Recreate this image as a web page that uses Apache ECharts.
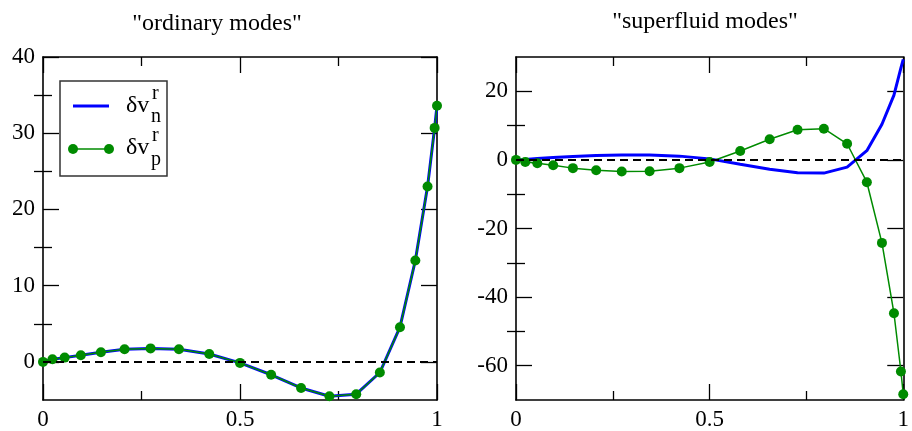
<!DOCTYPE html>
<html>
<head>
<meta charset="utf-8">
<script src="https://cdn.jsdelivr.net/npm/echarts@6/dist/echarts.min.js"></script>
<style>
  html, body { margin: 0; padding: 0; background: #fff; }
  #modes { width: 912px; height: 431px; }
</style>
</head>
<body>
<div id="modes"></div>
<script>
// radial grid points (shared by both panels)
const xs = [0, 0.024, 0.055, 0.096, 0.147, 0.207, 0.273, 0.345, 0.422, 0.5,
  0.579, 0.655, 0.727, 0.795, 0.855, 0.906, 0.945, 0.976, 0.994, 1.0]

// "ordinary modes"
const ordN = [0, 0.35, 0.56, 0.87, 1.26, 1.65, 1.77, 1.65, 1.04, -0.13,
  -1.69, -3.42, -4.5, -4.24, -1.39, 4.55, 13.3, 23.0, 30.7, 33.6]
const ordP = [0, 0.35, 0.56, 0.87, 1.26, 1.65, 1.77, 1.65, 1.04, -0.13,
  -1.69, -3.42, -4.5, -4.24, -1.39, 4.55, 13.3, 23.0, 30.7, 33.6]

// "superfluid modes"
const supN = [0, 0.1, 0.4, 0.7, 1.0, 1.3, 1.45, 1.4, 1.1, 0.3,
  -1.25, -2.7, -3.75, -3.85, -2.1, 2.7, 10.4, 18.9, 26.8, 29.3]
const supP = [0, -0.58, -0.96, -1.54, -2.4, -3.0, -3.4, -3.3, -2.4, -0.6,
  2.6, 6.0, 8.8, 9.1, 4.7, -6.5, -24.2, -44.7, -61.7, -68.3]

// tick labels
const ordMajor = [0, 10, 20, 30, 40]
const ordMinor = [5, 15, 25, 35]
const supMajor = [-60, -40, -20, 0, 20]
const supMinor = [-50, -30, -10, 10]

const pair = (ys) => xs.map((x, i) => [x, ys[i]])

const serif = 'Liberation Serif, DejaVu Serif, serif'
const green = '#008b00'
const blue = '#0000ff'

function xAxes (gridIndex) {
  const base = {
    type: 'value', gridIndex: gridIndex, min: 0, max: 1, interval: 0.5,
    splitLine: { show: false },
    axisLine: { onZero: false, lineStyle: { color: '#000', width: 1.6 } },
    axisTick: { inside: true, length: 16, lineStyle: { color: '#000', width: 1.3 } },
    minorTick: { show: true, splitNumber: 2, length: 9, lineStyle: { color: '#000', width: 1.3 } }
  }
  return [
    Object.assign({}, base, {
      position: 'bottom',
      axisLabel: { color: '#000', fontFamily: serif, fontSize: 23, margin: 8,
        formatter: v => String(v) }
    }),
    Object.assign({}, base, { position: 'top', axisLabel: { show: false } })
  ]
}

function yAxes (gridIndex, min, max, major, minor) {
  const line = { onZero: false, lineStyle: { color: '#000', width: 1.6 } }
  const tick = (vals, len) => ({ inside: true, length: len, customValues: vals,
    lineStyle: { color: '#000', width: 1.3 } })
  const base = { type: 'value', gridIndex: gridIndex, min: min, max: max,
    splitLine: { show: false } }
  return [
    Object.assign({}, base, { position: 'left', axisLine: line, axisTick: tick(major, 16),
      axisLabel: { customValues: major, color: '#000', fontFamily: serif, fontSize: 23, margin: 8 } }),
    Object.assign({}, base, { position: 'left', axisLine: { show: false }, axisTick: tick(minor, 9),
      axisLabel: { show: false } }),
    Object.assign({}, base, { position: 'right', axisLine: line, axisTick: tick(major, 16),
      axisLabel: { show: false } }),
    Object.assign({}, base, { position: 'right', axisLine: { show: false }, axisTick: tick(minor, 9),
      axisLabel: { show: false } })
  ]
}

const zeroLine = {
  silent: true,
  symbol: 'none',
  label: { show: false },
  lineStyle: { type: [8, 5], color: '#000', width: 1.8 },
  data: [{ yAxis: 0 }]
}

function lines (xi, yi, nVals, pVals) {
  return [
    {
      type: 'line', xAxisIndex: xi, yAxisIndex: yi, data: pair(nVals),
      showSymbol: false, symbol: 'none', z: 2,
      lineStyle: { color: blue, width: 3 },
      markLine: zeroLine
    },
    {
      type: 'line', xAxisIndex: xi, yAxisIndex: yi, data: pair(pVals),
      symbol: 'circle', symbolSize: 10, z: 3,
      itemStyle: { color: green },
      lineStyle: { color: green, width: 1.5 }
    }
  ]
}

const chart = echarts.init(document.getElementById('modes'))
const titleStyle = { fontFamily: serif, fontSize: 24, fontWeight: 'normal', color: '#000' }
const option = {
  animation: false,
  title: [
    { text: '"ordinary modes"', left: 212, top: 7, textAlign: 'center', textStyle: titleStyle },
    { text: '"superfluid modes"', left: 700, top: 5, textAlign: 'center', textStyle: titleStyle }
  ],
  grid: [
    { left: 43, top: 57, width: 394, height: 346 },
    { left: 516, top: 57, width: 392, height: 346 }
  ],
  xAxis: xAxes(0).concat(xAxes(1)),
  yAxis: yAxes(0, -5, 40, ordMajor, ordMinor).concat(yAxes(1, -70, 30, supMajor, supMinor)),
  series: lines(0, 0, ordN, ordP).concat(lines(2, 4, supN, supP)),
  // legend box drawn by hand (symbols at both ends of the sample line)
  graphic: [
    { type: 'rect', shape: { x: 60, y: 81, width: 107, height: 95 },
      style: { fill: '#fff', stroke: '#333', lineWidth: 1.5 }, z: 10 },
    { type: 'line', shape: { x1: 73, y1: 106, x2: 109, y2: 106 },
      style: { stroke: blue, lineWidth: 3 }, z: 11 },
    { type: 'line', shape: { x1: 73, y1: 149, x2: 109, y2: 149 },
      style: { stroke: green, lineWidth: 1.5 }, z: 11 },
    { type: 'circle', shape: { cx: 73, cy: 149, r: 5 }, style: { fill: green }, z: 11 },
    { type: 'circle', shape: { cx: 109, cy: 149, r: 5 }, style: { fill: green }, z: 11 },
    { type: 'text', x: 126, y: 106, z: 11,
      style: { text: 'δv', font: '24px ' + serif, fill: '#000', verticalAlign: 'middle' } },
    { type: 'text', x: 152, y: 94, z: 11,
      style: { text: 'r', font: '20px ' + serif, fill: '#000', verticalAlign: 'middle' } },
    { type: 'text', x: 151, y: 117, z: 11,
      style: { text: 'n', font: '20px ' + serif, fill: '#000', verticalAlign: 'middle' } },
    { type: 'text', x: 126, y: 148, z: 11,
      style: { text: 'δv', font: '24px ' + serif, fill: '#000', verticalAlign: 'middle' } },
    { type: 'text', x: 152, y: 136, z: 11,
      style: { text: 'r', font: '20px ' + serif, fill: '#000', verticalAlign: 'middle' } },
    { type: 'text', x: 151, y: 160, z: 11,
      style: { text: 'p', font: '20px ' + serif, fill: '#000', verticalAlign: 'middle' } }
  ]
}
chart.setOption(option)
</script>
</body>
</html>
